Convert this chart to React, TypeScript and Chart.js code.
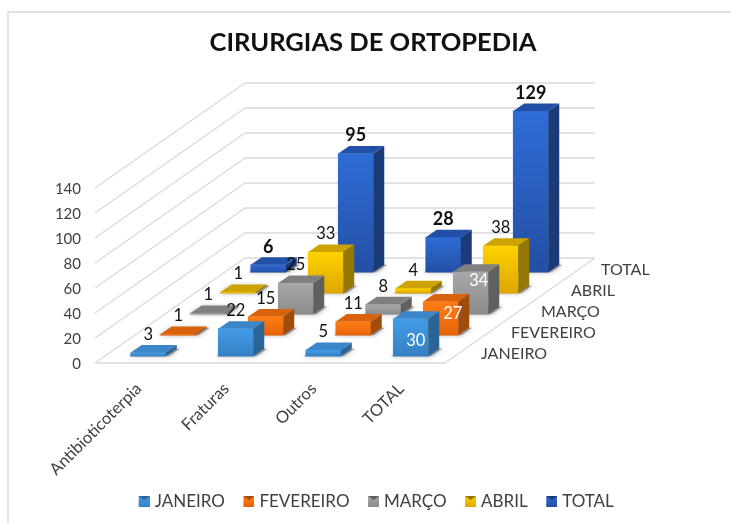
import React, { useEffect, useRef } from "react";
import { Chart, registerables } from "chart.js";

Chart.register(...registerables);

const categories = ["Antibioticoterpia", "Fraturas", "Outros", "TOTAL"];
const seriesNames = ["JANEIRO", "FEVEREIRO", "MARÇO", "ABRIL", "TOTAL"];
const janeiro = [3, 22, 5, 30];
const fevereiro = [1, 15, 11, 27];
const marco = [1, 25, 8, 34];
const abril = [1, 33, 4, 38];
const total = [6, 95, 28, 129];
const seriesValues = [janeiro, fevereiro, marco, abril, total];
const yTicksMax = 140;

// [front top, front bottom, top face, side face]
const palette = [
  ["#429BE6", "#3680C4", "#3A86C8", "#2B6496"],
  ["#FF7C12", "#E5640A", "#D9620C", "#A04C0C"],
  ["#A8A8A8", "#8C8C8C", "#808080", "#606060"],
  ["#FFD200", "#DDA600", "#CCA300", "#977704"],
  ["#2F6CD6", "#234FA4", "#2250A6", "#1A3A78"],
];

// 3D projection, px
const PX_PER_UNIT = 1.25;
const CELL = 87.5;
const DEPTH_X = 30;
const DEPTH_Y = 21;
const BAR_W = 35;
const SIDE_X = 11;
const SIDE_Y = 7.5;
const WALL_X = 150;
const WALL_Y = 105;
const GRID = "#d9d9d9";
const TEXT = "#404040";
const FONT = "Lato";

const xOf = (c: number, s: number) => c + 0.5 + (DEPTH_X * (s + 0.5) - SIDE_X / 2) / CELL;
const baseOf = (s: number) => (DEPTH_Y * (s + 0.5) - SIDE_Y / 2) / PX_PER_UNIT;

// Labels that sit on the front of the TOTAL bars rather than above them: [series, category, dx, dy]
const insideLabels = [
  [0, 3, 5, 22],
  [1, 3, 12, 12],
  [2, 3, 8, 9],
];

function makeIcon(colors: string[]) {
  // Transparent left part of the canvas spaces the legend entries out.
  const c = document.createElement("canvas");
  c.width = 21;
  c.height = 11;
  const g = c.getContext("2d")!;
  const left = 10;
  const grad = g.createLinearGradient(0, 0, 0, 11);
  grad.addColorStop(0, colors[0]);
  grad.addColorStop(1, colors[1]);
  g.fillStyle = grad;
  g.fillRect(left, 0, 11, 11);
  g.fillStyle = colors[3];
  g.beginPath();
  g.moveTo(left, 0);
  g.lineTo(left + 11, 0);
  g.lineTo(left + 5.5, 4);
  g.closePath();
  g.fill();
  return c;
}

const chrome3d = {
  id: "chrome3d",
  beforeDatasetsDraw(chart: any) {
    const { ctx, scales } = chart;
    const y = scales.y;
    const x0 = scales.x.getPixelForValue(0);
    const x4 = scales.x.getPixelForValue(categories.length);
    ctx.save();
    ctx.strokeStyle = GRID;
    ctx.lineWidth = 1.3;
    ctx.lineJoin = "round";
    y.ticks.forEach((t: any) => {
      const py = y.getPixelForValue(t.value);
      ctx.beginPath();
      ctx.moveTo(x0, py);
      ctx.lineTo(x0 + WALL_X, py - WALL_Y);
      ctx.lineTo(x4 + WALL_X, py - WALL_Y);
      ctx.stroke();
    });
    const py0 = y.getPixelForValue(0);
    ctx.beginPath();
    ctx.moveTo(x0, py0);
    ctx.lineTo(x4, py0);
    ctx.lineTo(x4 + WALL_X, py0 - WALL_Y);
    ctx.stroke();
    ctx.restore();
  },
  beforeDraw(chart: any) {
    const { ctx, width, height } = chart;
    ctx.save();
    ctx.strokeStyle = GRID;
    ctx.lineWidth = 1.5;
    ctx.strokeRect(8, 12, width + 10, height + 10);
    ctx.restore();
  },
  beforeDatasetDraw(chart: any, args: any) {
    const { ctx } = chart;
    const meta = chart.getDatasetMeta(args.index);
    ctx.save();
    ctx.shadowColor = "rgba(0,0,0,0.45)";
    ctx.shadowBlur = 5;
    ctx.fillStyle = "rgba(120,120,120,0.7)";
    meta.data.forEach((el: any) => {
      const { x, base, width } = el.getProps(["x", "base", "width"], true);
      const l = x - width / 2;
      ctx.beginPath();
      ctx.moveTo(l - 2, base);
      ctx.lineTo(l + width + 3, base);
      ctx.lineTo(l + width + SIDE_X + 3, base - SIDE_Y);
      ctx.lineTo(l + SIDE_X, base - SIDE_Y);
      ctx.closePath();
      ctx.fill();
    });
    ctx.restore();
  },
  afterDatasetDraw(chart: any, args: any) {
    const { ctx } = chart;
    const meta = chart.getDatasetMeta(args.index);
    const colors = palette[args.index];
    ctx.save();
    meta.data.forEach((el: any) => {
      const { x, y, base, width } = el.getProps(["x", "y", "base", "width"], true);
      const l = x - width / 2;
      const r = x + width / 2;
      ctx.fillStyle = colors[3];
      ctx.beginPath();
      ctx.moveTo(r, y);
      ctx.lineTo(r + SIDE_X, y - SIDE_Y);
      ctx.lineTo(r + SIDE_X, base - SIDE_Y);
      ctx.lineTo(r, base);
      ctx.closePath();
      ctx.fill();
      ctx.fillStyle = colors[2];
      ctx.beginPath();
      ctx.moveTo(l, y);
      ctx.lineTo(r, y);
      ctx.lineTo(r + SIDE_X, y - SIDE_Y);
      ctx.lineTo(l + SIDE_X, y - SIDE_Y);
      ctx.closePath();
      ctx.fill();
    });
    ctx.restore();
  },
  afterDatasetsDraw(chart: any) {
    const { ctx, scales } = chart;
    ctx.save();
    ctx.textAlign = "center";
    ctx.textBaseline = "middle";
    seriesValues.forEach((vals, s) => {
      const meta = chart.getDatasetMeta(s);
      vals.forEach((v, c) => {
        const el = meta.data[c];
        const { x, y } = el.getProps(["x", "y"], true);
        const inside = insideLabels.find((p) => p[0] === s && p[1] === c);
        const bold = s === seriesValues.length - 1;
        ctx.font = `${bold ? "bold " : ""}${bold ? 18 : 16.5}px ${FONT}`;
        ctx.fillStyle = inside ? "#ffffff" : "#111111";
        ctx.fillText(String(v), x + (inside ? inside[2] : 0), y + (inside ? inside[3] : -18));
      });
    });
    // Depth-axis labels
    const x4 = scales.x.getPixelForValue(categories.length);
    const y0 = scales.y.getPixelForValue(0);
    ctx.textAlign = "left";
    ctx.fillStyle = TEXT;
    ctx.font = `16px ${FONT}`;
    seriesNames.forEach((name, s) => {
      ctx.fillText(name, x4 + 36 + DEPTH_X * s, y0 - 9 - DEPTH_Y * s);
    });
    ctx.restore();
  },
};

export default function App() {
  const ref = useRef<HTMLCanvasElement>(null);
  useEffect(() => {
    document.body.style.margin = "0";
    const datasets = seriesNames.map((name, s) => ({
      label: name,
      data: seriesValues[s].map((v, c) => ({ x: xOf(c, s), y: [baseOf(s), baseOf(s) + v] })),
      backgroundColor: (ctx: any) => {
        const sc = ctx.chart.scales.y;
        const raw = ctx.raw;
        if (!sc || !raw) return palette[s][0];
        const top = sc.getPixelForValue(raw.y[1]);
        const bottom = sc.getPixelForValue(raw.y[0]);
        if (!Number.isFinite(top) || !Number.isFinite(bottom)) return palette[s][0];
        const g = ctx.chart.ctx.createLinearGradient(0, top, 0, bottom);
        g.addColorStop(0, palette[s][0]);
        g.addColorStop(1, palette[s][1]);
        return g;
      },
      borderWidth: 0,
      barThickness: BAR_W,
      grouped: false,
      clip: false,
    }));
    const icons = palette.map(makeIcon);
    const chart = new Chart(ref.current!, {
      type: "bar",
      data: { datasets } as any,
      plugins: [chrome3d],
      options: {
        animation: false,
        responsive: false,
        layout: { padding: { left: 15, right: 0, top: 0, bottom: 3 } },
        plugins: {
          title: {
            display: true,
            text: "CIRURGIAS DE ORTOPEDIA",
            color: "#111111",
            font: { family: FONT, size: 25.5, weight: "bold", lineHeight: 1 },
            padding: { top: 30, bottom: 132.5 },
          },
          legend: {
            position: "bottom",
            labels: {
              font: { family: FONT, size: 17 },
              color: TEXT,
              usePointStyle: true,
              boxWidth: 14,
              boxHeight: 11,
              padding: 12,
              generateLabels: (c: any) =>
                Chart.defaults.plugins.legend.labels
                  .generateLabels(c)
                  .map((l: any, i: number) => ({ ...l, pointStyle: icons[i] })),
            },
          },
          tooltip: { enabled: false },
        },
        scales: {
          x: {
            type: "linear",
            min: 0,
            max: (731 - 95) / CELL,
            offset: false,
            grid: { display: false },
            border: { display: false },
            afterBuildTicks: (s: any) => {
              s.ticks = categories.map((_, i) => ({ value: i + 0.5 }));
            },
            afterFit: (s: any) => {
              s.height = 118;
            },
            ticks: {
              autoSkip: false,
              minRotation: 45,
              maxRotation: 45,
              padding: 8,
              color: TEXT,
              font: { family: FONT, size: 16.5 },
              callback: (v: any) => categories[Math.round(Number(v) - 0.5)],
            },
          },
          y: {
            min: 0,
            max: yTicksMax,
            grid: { display: false },
            border: { display: false },
            afterFit: (s: any) => {
              s.width = 80;
            },
            ticks: {
              stepSize: 20,
              padding: 6,
              labelOffset: 1.5,
              color: TEXT,
              font: { family: FONT, size: 15 },
            },
          },
        },
      } as any,
    });
    return () => chart.destroy();
  }, []);
  return <canvas ref={ref} width={731} height={523} style={{ display: "block" }} />;
}
